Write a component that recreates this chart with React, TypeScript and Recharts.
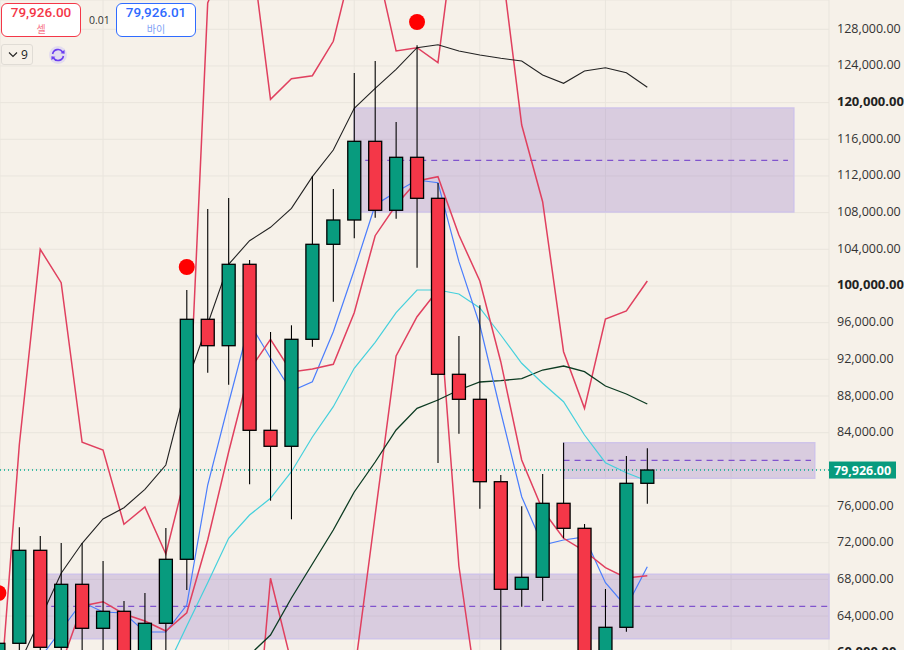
import React from 'react';
import { ComposedChart, Bar, Line, XAxis, YAxis, CartesianGrid, ReferenceArea, ReferenceLine } from 'recharts';

// candle index, first one sits just off the left edge
const indexes = [-1, 0, 1, 2, 3, 4, 5, 6, 7, 8, 9, 10, 11, 12, 13, 14, 15, 16, 17, 18, 19, 20, 21, 22, 23, 24, 25, 26, 27, 28, 29, 30];
const opens = [59500, 61025, 71169, 60588, 67460, 62661, 64516, 59800, 63207, 70188, 96367, 93487, 102366, 84259, 82514, 94185, 104548, 107198, 115783, 108256, 114038, 109565, 90367, 87640, 78652, 66915, 68224, 76296, 73569, 59500, 62770, 78478];
const closes = [61025, 71169, 60588, 67460, 62661, 64516, 59500, 63207, 70188, 96367, 93487, 102366, 84259, 82514, 94185, 104548, 107198, 115783, 108256, 114038, 109565, 90367, 87640, 78652, 66915, 68224, 76296, 73569, 59000, 62770, 78478, 79926];
const highs = [61025, 73678, 72729, 71966, 71966, 70002, 65639, 66512, 73602, 99563, 108398, 109598, 102835, 94981, 95712, 111998, 110580, 123233, 124542, 117888, 126255, 111234, 94545, 97894, 79383, 75968, 79492, 82906, 74038, 66948, 81456, 82295];
const lows = [59000, 59500, 59000, 59500, 59500, 59500, 58500, 59000, 59500, 66839, 90542, 89233, 78368, 76579, 74550, 93378, 98287, 105202, 107449, 107340, 101995, 80692, 83888, 75707, 58000, 65017, 65639, 72478, 58000, 59000, 62290, 76250];

const upperBand = [52658, 82655, 104002, 100359, 82950, 82110, 74005, 75892, 70766, 79928, 130869, 136650, 138395, 120364, 122611, 122939, 126691, 135996, 135777, 125633, 125993, 124357, 142104, 142104, 135886, 117561, 109195, 92833, 86658, 96399, 97272, 100545];
const lowerBand = [null, null, null, null, null, null, null, null, null, null, null, null, 42078, 68115, 58876, 52658, 52658, 57567, 75020, 92364, 96650, 99563, 69457, 53531, null, null, null, null, null, null, null, null];
const slowRed = [null, null, null, 58658, 65094, 65563, 64221, 63457, 62367, 64362, 72293, 81892, 90836, 94185, 90618, 90945, 91458, 97086, 105486, 108835, 111453, 111922, 105562, 100545, 91742, 81019, 75565, 72478, 71093, 69271, 68148, 68399];
const fastBlue = [null, null, 59421, 62476, 65530, 64439, 64330, 62257, 62257, 65203, 78292, 87237, 95963, 92145, 88546, 89560, 95014, 101744, 108835, 110253, 111562, 111267, 102650, 95745, 86255, 77016, 71747, 72293, 72620, 67635, 64984, 69380];
const cyanAvg = [null, null, null, null, null, null, null, null, 58112, 62912, 67635, 72478, 75020, 76841, 79743, 83528, 86833, 91022, 93858, 97086, 99563, 99563, 99126, 97599, 94654, 91567, 89386, 87379, 83746, 80725, 79633, 78729];
const blackAvg = [null, 58767, 63675, 68660, 71933, 74583, 75816, 77823, 80474, 89418, 95854, 102366, 104940, 106402, 108475, 111922, 114834, 119383, 121564, 123637, 125993, 126320, 125633, 125197, 124837, 124542, 123015, 122110, 123451, 123811, 123266, 121673];
const greenAvg = [null, null, null, null, null, null, null, null, null, null, null, null, 59749, 61930, 65966, 69675, 73384, 77529, 80801, 84292, 86658, 87564, 88655, 89527, 89680, 89888, 90836, 91273, 90651, 89091, 88218, 87128];
const signals = [66512, null, null, null, null, null, null, null, null, 102072, null, null, null, null, null, null, null, null, null, null, 128796, null, null, null, null, null, null, null, null, null, null, null];

const priceTicks = [60000, 64000, 68000, 72000, 76000, 80000, 84000, 88000, 92000, 96000, 100000, 104000, 108000, 112000, 116000, 120000, 124000, 128000];
const gridIndexes = [4, 10, 16, 22, 28, 34];
const lastPrice = 79926;

const rows = indexes.map((idx, i) => ({
  idx,
  open: opens[i],
  close: closes[i],
  high: highs[i],
  low: lows[i],
  upperBand: upperBand[i],
  lowerBand: lowerBand[i],
  slowRed: slowRed[i],
  fastBlue: fastBlue[i],
  cyanAvg: cyanAvg[i],
  blackAvg: blackAvg[i],
  greenAvg: greenAvg[i],
  signal: signals[i],
}));

const BG = '#f6f1e9';
const GREEN = '#089b7e';
const RED = '#f43748';
const BOX = 'rgba(103,58,183,0.2)';
const BOX_EDGE = '#cfc4e9';
const MID = '#6a35c8';
const FONT = '"Open Sans", "Noto Sans CJK KR", sans-serif';

const Candle = (props: any) => {
  const { x, y, width, height, payload } = props;
  const k = height / (payload.high - payload.low);
  const top = y + (payload.high - Math.max(payload.open, payload.close)) * k;
  const bottom = y + (payload.high - Math.min(payload.open, payload.close)) * k;
  const mid = x + width / 2;
  return (
    <g>
      <line x1={mid} x2={mid} y1={y} y2={y + height} stroke="#000" strokeWidth={1.1} />
      <rect
        x={x}
        y={top}
        width={width}
        height={bottom - top}
        fill={payload.close >= payload.open ? GREEN : RED}
        stroke="#000"
        strokeWidth={1.3}
      />
    </g>
  );
};

const PriceTick = (props: any) => {
  const { x, y, payload } = props;
  // the last price tag sits on top of this one
  if (Math.abs(payload.value - lastPrice) < 1000) return null;
  const major = payload.value % 20000 === 0;
  return (
    <text
      x={x}
      y={y}
      dy={3.5}
      textAnchor="start"
      fontFamily={FONT}
      fontSize={major ? 13 : 12.5}
      fontWeight={major ? 700 : 400}
      fill={major ? '#222' : '#333'}
    >
      {payload.value.toLocaleString('en-US', { minimumFractionDigits: 2 })}
    </text>
  );
};

const LastTag = (props: any) => {
  const { viewBox } = props;
  const left = viewBox.x + viewBox.width;
  return (
    <g>
      <rect x={left} y={viewBox.y - 8.5} width={67} height={17} fill={GREEN} />
      <text x={left + 33.5} y={viewBox.y + 4.5} textAnchor="middle" fontFamily={FONT} fontSize={12.5} fontWeight={700} fill="#fff">
        {lastPrice.toLocaleString('en-US', { minimumFractionDigits: 2 })}
      </text>
    </g>
  );
};

const QuoteBox = ({ left, price, label, color, soft }: any) => (
  <div
    style={{
      position: 'absolute',
      left,
      top: 3,
      width: 78,
      height: 32,
      background: '#fff',
      border: `1px solid ${color}`,
      borderRadius: 6,
      textAlign: 'center',
    }}
  >
    <div style={{ fontFamily: 'Roboto', fontSize: 13.5, lineHeight: '15px', marginTop: 1, fontWeight: 500, color }}>{price}</div>
    <div style={{ fontFamily: '"Noto Sans CJK KR"', fontSize: 10, lineHeight: '13px', marginTop: 2, color: soft }}>{label}</div>
  </div>
);

export default function App() {
  return (
    <div style={{ position: 'absolute', left: 0, top: 0, width: 904, height: 650, overflow: 'hidden', background: BG }}>
      <ComposedChart width={904} height={680} data={rows} margin={{ top: 0, right: 0, bottom: 0, left: 0 }}>
        <CartesianGrid stroke="#e9e5dd" strokeWidth={1} />
        <XAxis
          dataKey="idx"
          type="number"
          hide
          domain={[-0.922, 38.68]}
          ticks={gridIndexes}
          allowDataOverflow
        />
        <YAxis
          orientation="right"
          width={75}
          type="number"
          domain={[57022, 131196]}
          ticks={priceTicks}
          interval={0}
          allowDataOverflow
          axisLine={false}
          tickLine={false}
          tick={<PriceTick />}
        />

        <ReferenceArea x1={16} x2={37} y1={108071} y2={119415} fill={BOX} fillOpacity={1} stroke={BOX_EDGE} strokeWidth={1.5} />
        <ReferenceArea x1={26} x2={38} y1={79023} y2={82906} fill={BOX} fillOpacity={1} stroke={BOX_EDGE} strokeWidth={1.5} />
        <ReferenceArea x1={1} x2={38.68} y1={61526} y2={68551} fill={BOX} fillOpacity={1} stroke={BOX_EDGE} strokeWidth={1.5} />
        <ReferenceLine segment={[{ x: 16, y: 113710 }, { x: 36.72, y: 113710 }]} stroke={MID} strokeDasharray="6 5" />
        <ReferenceLine segment={[{ x: 26, y: 80987 }, { x: 37.82, y: 80987 }]} stroke={MID} strokeDasharray="6 5" />
        <ReferenceLine segment={[{ x: 1, y: 65061 }, { x: 38.68, y: 65061 }]} stroke={MID} strokeDasharray="6 5" />
        <ReferenceLine y={lastPrice} stroke="#00ad90" strokeDasharray="1 3" strokeWidth={1.5} label={<LastTag />} />

        <Line dataKey="upperBand" stroke="#e0405f" strokeWidth={1.5} dot={false} isAnimationActive={false} />
        <Line dataKey="lowerBand" stroke="#e0405f" strokeWidth={1.5} dot={false} isAnimationActive={false} />
        <Line dataKey="blackAvg" stroke="#222" strokeWidth={1.1} dot={false} isAnimationActive={false} />
        <Line dataKey="greenAvg" stroke="#0c3b22" strokeWidth={1.3} dot={false} isAnimationActive={false} />
        <Line dataKey="cyanAvg" stroke="#45d0dc" strokeWidth={1.2} dot={false} isAnimationActive={false} />
        <Line dataKey="fastBlue" stroke="#4a7dfc" strokeWidth={1.2} dot={false} isAnimationActive={false} />
        <Line dataKey="slowRed" stroke="#e0405f" strokeWidth={1.5} dot={false} isAnimationActive={false} />

        <Bar
          dataKey={(d: any) => [d.low, d.high]}
          barSize={13}
          shape={<Candle />}
          isAnimationActive={false}
          zIndex={450}
        />

        <Line
          dataKey="signal"
          stroke="none"
          dot={{ r: 8, fill: '#ff0000', stroke: 'none' }}
          isAnimationActive={false}
          zIndex={500}
        />
      </ComposedChart>

      <QuoteBox left={1} price="79,926.00" label="셀" color={RED} soft="#f7748a" />
      <div style={{ position: 'absolute', left: 89, top: 13, fontFamily: FONT, fontSize: 10.5, color: '#333' }}>0.01</div>
      <QuoteBox left={116} price="79,926.01" label="바이" color="#2f6bff" soft="#7f9ff5" />

      <div
        style={{
          position: 'absolute',
          left: 1,
          top: 44,
          width: 30,
          height: 19,
          border: '1px solid #e0dcd5',
          borderRadius: 3,
          fontFamily: FONT,
          fontSize: 12,
          color: '#222',
        }}
      >
        <svg width={10} height={8} style={{ position: 'absolute', left: 6, top: 6 }}>
          <path d="M1 1.5 L5 5.5 L9 1.5" fill="none" stroke="#222" strokeWidth={1.1} />
        </svg>
        <span style={{ position: 'absolute', left: 19, top: 1 }}>9</span>
      </div>
      <svg width={18} height={18} style={{ position: 'absolute', left: 49, top: 46 }}>
        <circle cx={9} cy={9} r={9} fill="#e3dcee" />
        <path d="M3.6 8 A5.5 5.5 0 0 1 13.6 6" fill="none" stroke="#6a3df0" strokeWidth={1.6} />
        <path d="M14.4 10 A5.5 5.5 0 0 1 4.4 12" fill="none" stroke="#6a3df0" strokeWidth={1.6} />
        <path d="M15.5 3.8 L15.6 7.8 L11.6 7.2 Z" fill="#6a3df0" />
        <path d="M2.5 14.2 L2.4 10.2 L6.4 10.8 Z" fill="#6a3df0" />
      </svg>
    </div>
  );
}
